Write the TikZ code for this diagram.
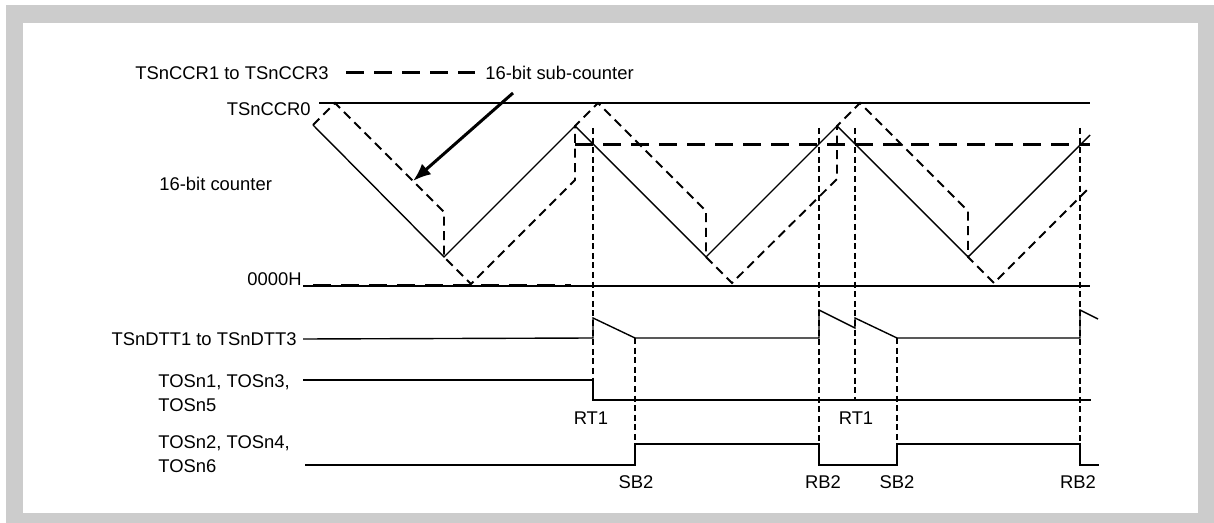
\documentclass[tikz,border=0pt]{standalone}
\usepackage{fontspec}
\setmainfont{Liberation Sans}
\usetikzlibrary{arrows.meta}
\definecolor{framegray}{HTML}{CCCCCC}
\begin{document}
\begin{tikzpicture}[x=0.5pt,y=-0.5pt,
  lbl/.style={inner sep=0pt, font=\fontsize{9.2pt}{12.25pt}\selectfont, text height=6.6pt, text depth=0pt},
  lbltwo/.style={inner sep=0pt, align=left, font=\fontsize{9.2pt}{12.25pt}\selectfont},
  thinline/.style={line width=0.7pt},
  subline/.style={line width=0.95pt, dash pattern=on 4.5pt off 2.8pt},
  ccrline/.style={line width=1.5pt, dash pattern=on 9pt off 5pt},
  guide/.style={line width=1pt, dash pattern=on 3pt off 1.8pt}]
% background and frame
\useasboundingbox (0,0) rectangle (1214,523);
\fill[white] (0,0) rectangle (1214,523);
\fill[framegray] (6,5) rectangle (1214,523);
\fill[white] (23,23) rectangle (1198,513);

% labels
\node[lbl,anchor=west] (ccr13) at (135,73) {TSnCCR1 to TSnCCR3};
\node[lbl,anchor=west] (subc) at (485,73) {16-bit sub-counter};
\node[lbl,anchor=east] (ccr0) at (311,109) {TSnCCR0};
\node[lbl,anchor=west] (cnt) at (159,184) {16-bit counter};
\node[lbl,anchor=east] (zero) at (302,279) {0000H};
\node[lbl,anchor=east] (dtt) at (297,339) {TSnDTT1 to TSnDTT3};
\node[lbltwo,anchor=north west] (tosa) at (158,374.2) {TOSn1, TOSn3,\\TOSn5};
\node[lbltwo,anchor=north west] (tosb) at (158,435.2) {TOSn2, TOSn4,\\TOSn6};

\node[lbl] (rta) at (591,418) {RT1};
\node[lbl] (sba) at (636,482) {SB2};
\node[lbl] (rba) at (823,482) {RB2};
\node[lbl] (rtb) at (856,418) {RT1};
\node[lbl] (sbb) at (897,482) {SB2};
\node[lbl] (rbb) at (1078,482) {RB2};

% legend line and arrow
\draw[ccrline] ([xshift=8.5pt]ccr13.east) -- ([xshift=-5pt]subc.west);
\coordinate (arrS) at (513,93);
\coordinate (arrE) at (413,181);
\draw[line width=1.5pt, -{Latex[length=9pt,width=7pt]}] (arrS) -- (arrE);

% reference levels
\draw[thinline] (319,103) -- (1090,103);
\draw[thinline] (303,286) -- (1090,286);
\draw[ccrline] (313,286) -- (571,286);
\draw[ccrline] (575,145) -- (1090,145);

% 16-bit counter
\draw[thinline] (313,125) -- (444,257) -- (575,126) -- (706,257) -- (837,126) -- (968,257) -- (1090,135);
% sub-counter
\draw[subline] (313,125) -- (335,103) -- (444,212) -- (444,257) -- (471,284) -- (575,180) -- (575,126)
  -- (598,103) -- (706,211) -- (706,257) -- (732,283) -- (837,179) -- (837,126)
  -- (860,103) -- (968,211) -- (968,257) -- (994,283) -- (1087,190);

% vertical guides
\draw[guide] (593,128) -- (593,400);
\draw[guide] (635,338) -- (635,465);
\draw[guide] (819,128) -- (819,465);
\draw[guide] (855,128) -- (855,400);
\draw[guide] (897,338) -- (897,465);
\draw[guide] (1080,128) -- (1080,465);

% TSnDTT
\draw[thinline] ([xshift=3pt]dtt.east) -- (593,338) -- (593,318) -- (635,338) -- (819,338) -- (819,310)
  -- (855,328) -- (855,318) -- (897,338) -- (1080,338) -- (1080,310) -- (1098,319);
% TOSn1
\draw[thinline] (303,380) -- (593,380) -- (593,400) -- (1091,400);
% TOSn2
\draw[thinline] (305,465) -- (635,465) -- (635,444) -- (819,444) -- (819,465) -- (897,465) -- (897,444)
  -- (1080,444) -- (1080,465) -- (1099,465);
\end{tikzpicture}
\end{document}
